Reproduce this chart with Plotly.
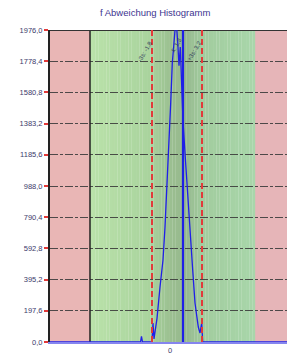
import plotly.graph_objects as go

# ---- data ----
title_text = "f Abweichung Histogramm"
y_ticks = [0.0, 197.6, 395.2, 592.8, 790.4, 988.0, 1185.6, 1383.2, 1580.8, 1778.4, 1976.0]
y_tick_labels = ["0,0", "197,6", "395,2", "592,8", "790,4", "988,0",
                 "1185,6", "1383,2", "1580,8", "1778,4", "1976,0"]
x_tick_vals = [0]
x_tick_labels = ["0"]

hist_x = [-12, -2.95, -2.85, -2.75, -1.8, -1.7, -1.6, -1.3, -1.0, -0.7, -0.5, -0.27,
          -0.07, 0.07, 0.23, 0.43, 0.6, 0.77, 0.9, 1.03, 1.17, 1.3, 1.5, 1.83, 2.07,
          2.27, 2.5, 2.83, 3.0, 3.17, 3.27, 12.5]
hist_y = [0, 0, 35, 0, 0, 120, 20, 150, 348, 519, 728, 1026,
          1235, 1513, 1767, 1912, 2050, 1900, 1750, 1868, 1615, 1400, 1197, 855, 665,
          456, 247, 95, 57, 120, 0, 0]

x_min, x_max = -12, 12.5
y_min, y_max = 0, 1976.0
lower_limit, upper_limit = -8.0, 8.5      # green tolerance band
lower_sigma, upper_sigma = -1.8, 3.2      # red dashed lines
mean_val = 1.3
sigma_labels = ["-3s: -1,8", "x̄: 1,3", "+3s: 3,2"]

# ---- figure ----
fig = go.Figure()

fig.add_trace(go.Scatter(x=hist_x, y=hist_y, mode="lines",
                         line=dict(color="#1f1fe8", width=1.3),
                         hoverinfo="skip", showlegend=False))

shapes = []
# pink out-of-tolerance zones
shapes.append(dict(type="rect", xref="x", yref="y", x0=x_min, x1=lower_limit, y0=y_min, y1=y_max,
                   fillcolor="#e9b6b5", line=dict(width=0), layer="below"))
shapes.append(dict(type="rect", xref="x", yref="y", x0=upper_limit, x1=x_max, y0=y_min, y1=y_max,
                   fillcolor="#e6b5b8", line=dict(width=0), layer="below"))

# green gradient band
stops = [(0.0, (186, 226, 170)), (0.35, (170, 212, 158)), (0.5, (154, 190, 144)),
         (0.58, (150, 184, 142)), (0.68, (162, 204, 158)), (1.0, (168, 214, 170))]
def col(t):
    for i in range(len(stops) - 1):
        t0, c0 = stops[i]
        t1, c1 = stops[i + 1]
        if t0 <= t <= t1:
            f = (t - t0) / (t1 - t0)
            return "rgb(%d,%d,%d)" % tuple(round(c0[k] + (c1[k] - c0[k]) * f) for k in range(3))
    return "rgb(%d,%d,%d)" % stops[-1][1]
n = 60
w = (upper_limit - lower_limit) / n
for i in range(n):
    shapes.append(dict(type="rect", xref="x", yref="y",
                       x0=lower_limit + i * w, x1=lower_limit + (i + 1) * w + 0.02,
                       y0=y_min, y1=y_max, fillcolor=col((i + 0.5) / n),
                       line=dict(width=0), layer="below"))

# black line at lower limit
shapes.append(dict(type="line", xref="x", yref="y", x0=lower_limit, x1=lower_limit, y0=y_min, y1=y_max,
                   line=dict(color="#222222", width=1.5), layer="between"))
# top border line
shapes.append(dict(type="line", xref="x", yref="y", x0=x_min, x1=x_max, y0=y_max, y1=y_max,
                   line=dict(color="#333333", width=2), layer="between"))
# red dashed sigma lines
for xv in (lower_sigma, upper_sigma):
    shapes.append(dict(type="line", xref="x", yref="y", x0=xv, x1=xv, y0=y_min, y1=y_max,
                       line=dict(color="#e23a3a", width=2, dash="6px,3px"), layer="above"))
# mean line
shapes.append(dict(type="line", xref="x", yref="y", x0=mean_val, x1=mean_val, y0=y_min, y1=y_max,
                   line=dict(color="#1f1fe8", width=2.2), layer="above"))

annotations = [
    dict(text=title_text, xref="paper", yref="paper", x=0.43, y=1.0, yshift=18,
         xanchor="center", yanchor="middle", showarrow=False,
         font=dict(size=9.5, color="#3d3590", family="Liberation Sans")),
]
for xv, lab, ys in ((lower_sigma - 0.65, sigma_labels[0], 1840),
                    (mean_val - 0.65, sigma_labels[1], 1880),
                    (upper_sigma - 0.75, sigma_labels[2], 1840)):
    annotations.append(dict(text=lab, x=xv, y=ys, xref="x", yref="y", showarrow=False,
                            textangle=-60, font=dict(size=6, color="#34405a", family="Liberation Sans")))

fig.update_layout(
    width=287, height=348,
    margin=dict(l=42, r=0, t=22, b=14),
    paper_bgcolor="white", plot_bgcolor="white",
    shapes=shapes, annotations=annotations,
    showlegend=False,
    xaxis=dict(range=[x_min, x_max], tickvals=x_tick_vals, ticktext=x_tick_labels,
               showgrid=False, zeroline=False, showline=True, linecolor="#8585ee", linewidth=2,
               ticks="", tickfont=dict(size=7.5, color="#3a3a6a", family="Liberation Sans")),
    yaxis=dict(range=[y_min, y_max], tickvals=y_ticks, ticktext=y_tick_labels,
               showgrid=True, gridcolor="rgba(60,60,60,0.9)", gridwidth=1.4,
               griddash="8px,2px,3px,2px", zeroline=False,
               showline=True, linecolor="#222222", linewidth=2,
               ticks="outside", ticklen=4, tickcolor="#e23a3a", tickwidth=2,
               tickfont=dict(size=7.5, color="#3a3a6a", family="Liberation Sans")),
)

fig.write_html("out.html")
